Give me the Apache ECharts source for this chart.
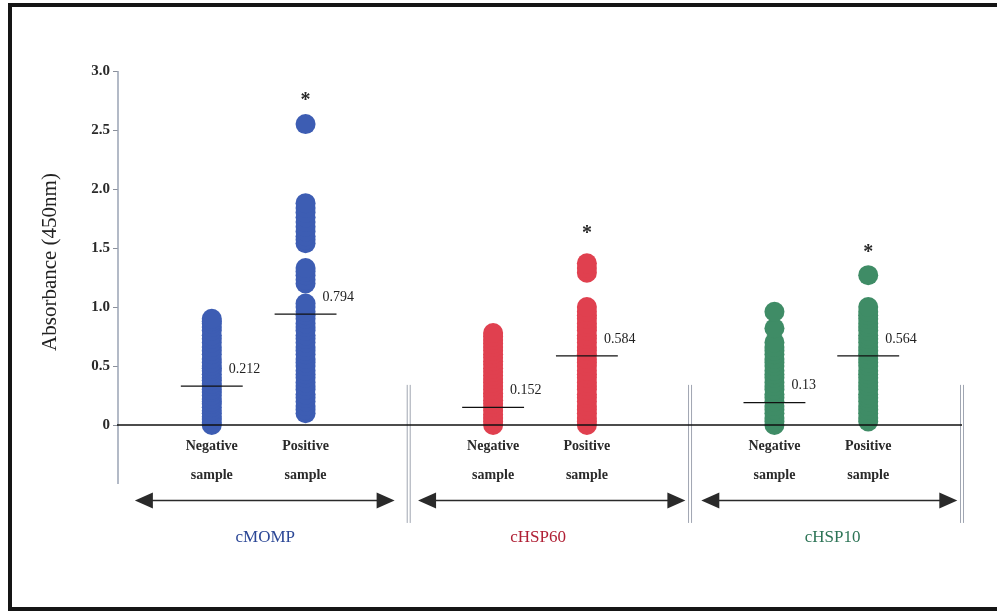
<!DOCTYPE html>
<html><head><meta charset="utf-8">
<script src="https://cdn.jsdelivr.net/npm/echarts@6/dist/echarts.min.js"></script>
<style>html,body{margin:0;padding:0;background:#fff}#c{width:997px;height:613px}</style>
</head><body><div id="c"></div>
<script>
// ---- data ----
const yTickValues = [0, 0.5, 1, 1.5, 2, 2.5, 3];
const yTickLabels = ['0', '0.5', '1.0', '1.5', '2.0', '2.5', '3.0'];
const groups = ['cMOMP', 'cHSP60', 'cHSP10'];
const sampleTypes = ['Negative\nsample', 'Positive\nsample'];
const columnX = [1, 2, 4, 5, 7, 8];
const groupCenterX = [1.57, 4.48, 7.62];
const groupArrowX = [[0.18, 2.95], [3.2, 6.05], [6.22, 8.95]];
const separatorX = [3.1, 6.1, 9.0];
const meanLine = [0.33, 0.94, 0.15, 0.585, 0.19, 0.585];
const meanLabels = ['0.212', '0.794', '0.152', '0.584', '0.13', '0.564'];
const asteriskY = [2.78, 1.65, 1.49];

const cMOMPNeg = [0.0,0.02,0.05,0.07,0.1,0.12,0.15,0.18,0.2,0.22,0.25,0.28,0.3,0.33,0.35,0.38,0.4,0.43,0.46,0.48,0.5,0.53,0.56,0.6,0.63,0.66,0.7,0.73,0.76,0.8,0.83,0.86,0.88,0.9];
const cMOMPPos = [0.1,0.13,0.16,0.2,0.23,0.26,0.3,0.33,0.36,0.4,0.43,0.46,0.5,0.53,0.56,0.6,0.63,0.66,0.7,0.73,0.76,0.8,0.83,0.86,0.9,0.93,0.96,1.0,1.03,1.2,1.23,1.27,1.3,1.33,1.54,1.57,1.6,1.64,1.68,1.72,1.76,1.8,1.84,1.88,2.55];
const cHSP60Neg = [0.0,0.03,0.06,0.09,0.12,0.15,0.18,0.21,0.24,0.27,0.3,0.33,0.36,0.39,0.42,0.45,0.48,0.51,0.54,0.57,0.6,0.63,0.66,0.69,0.72,0.75,0.78];
const cHSP60Pos = [0.0,0.03,0.06,0.1,0.13,0.16,0.2,0.23,0.26,0.3,0.33,0.36,0.4,0.43,0.46,0.5,0.53,0.56,0.6,0.63,0.66,0.7,0.73,0.76,0.8,0.83,0.86,0.9,0.93,0.96,1.0,1.29,1.33,1.37];
const cHSP10Neg = [0.0,0.03,0.06,0.1,0.13,0.16,0.2,0.23,0.26,0.3,0.33,0.36,0.4,0.43,0.46,0.5,0.53,0.56,0.6,0.63,0.66,0.7,0.82,0.96];
const cHSP10Pos = [0.03,0.06,0.1,0.13,0.16,0.2,0.23,0.26,0.3,0.33,0.36,0.4,0.43,0.46,0.5,0.53,0.56,0.6,0.63,0.66,0.7,0.73,0.76,0.8,0.83,0.86,0.9,0.93,0.96,1.0,1.27];

const groupColors = ['#3d5db3', '#e0404f', '#3f8c66'];
const groupTextColors = ['#2b4796', '#b02035', '#2d7456'];
const groupData = [[cMOMPNeg, cMOMPPos], [cHSP60Neg, cHSP60Pos], [cHSP10Neg, cHSP10Pos]];

const scatterSeries = [];
groupData.forEach((pair, g) => {
  pair.forEach((vals, k) => {
    const x = columnX[g * 2 + k];
    scatterSeries.push({
      type: 'scatter', symbol: 'circle', symbolSize: 20, clip: false, z: 3,
      itemStyle: { color: groupColors[g], opacity: 1 },
      data: vals.map(v => [x, v])
    });
  });
});

const chart = echarts.init(document.getElementById('c'), null, { renderer: 'canvas' });
chart.setOption({
  animation: false,
  backgroundColor: '#fff',
  grid: { left: 118, width: 844, top: 71, bottom: 70 },
  xAxis: { type: 'value', min: 0, max: 9, show: false },
  yAxis: {
    type: 'value', min: -1, max: 3, interval: 0.5,
    axisLine: { show: false },
    splitLine: { show: false },
    axisTick: { show: true, length: 5, customValues: yTickValues, lineStyle: { color: '#8a8f9a' } },
    axisLabel: {
      customValues: yTickValues, margin: 8,
      formatter: v => yTickLabels[yTickValues.indexOf(v)] ?? '',
      fontFamily: '"Liberation Serif", serif', fontWeight: 'bold', fontSize: 15, color: '#2a2a2a'
    }
  },
  graphic: [
    { type: 'rect', shape: { x: 10, y: 5, width: 1000, height: 604 }, style: { fill: 'none', stroke: '#151515', lineWidth: 4 }, z: 100 },
    { type: 'text', x: 50, y: 262, rotation: Math.PI / 2,
      style: { text: 'Absorbance (450nm)', font: '21px "Liberation Serif", serif', fill: '#222', textAlign: 'center', textVerticalAlign: 'middle' } }
  ],
  series: [
    { type: 'line', data: [[0, 3], [0, -0.5]], symbol: 'none', clip: false, z: 1,
      lineStyle: { color: '#9aa3b5', width: 1.5 } },
    { type: 'line', data: [[-0.05, 0], [9, 0]], symbol: 'none', clip: false, z: 4,
      lineStyle: { color: '#111', width: 1.5 } },
    ...scatterSeries,
    { type: 'custom', clip: false, z: 2,
      data: separatorX.map(x => [x, 0.34, -0.83]),
      encode: { x: 0, y: 1 },
      renderItem: (params, api) => {
        const p1 = api.coord([api.value(0), api.value(1)]);
        const p2 = api.coord([api.value(0), api.value(2)]);
        const st = { stroke: '#a0a6b2', lineWidth: 1 };
        return { type: 'group', children: [
          { type: 'line', shape: { x1: p1[0] - 1.5, y1: p1[1], x2: p2[0] - 1.5, y2: p2[1] }, style: st },
          { type: 'line', shape: { x1: p1[0] + 1.5, y1: p1[1], x2: p2[0] + 1.5, y2: p2[1] }, style: st }
        ] };
      } },
    { type: 'custom', clip: false, z: 5,
      data: groupArrowX.map(a => [a[0], -0.64, a[1]]),
      encode: { x: 0, y: 1 },
      renderItem: (params, api) => {
        const a = api.coord([api.value(0), api.value(1)]);
        const b = api.coord([api.value(2), api.value(1)]);
        const y = a[1], L = 18, H = 8;
        const fill = '#2a2a2a';
        return { type: 'group', children: [
          { type: 'line', shape: { x1: a[0] + L - 2, y1: y, x2: b[0] - L + 2, y2: y }, style: { stroke: fill, lineWidth: 1.5 } },
          { type: 'polygon', shape: { points: [[a[0], y], [a[0] + L, y - H], [a[0] + L, y + H]] }, style: { fill: fill } },
          { type: 'polygon', shape: { points: [[b[0], y], [b[0] - L, y - H], [b[0] - L, y + H]] }, style: { fill: fill } }
        ] };
      } },
    { type: 'custom', clip: false, z: 6,
      data: columnX.map((x, i) => [x, meanLine[i], i]),
      encode: { x: 0, y: 1 },
      renderItem: (params, api) => {
        const x = api.value(0), m = api.value(1), i = api.value(2);
        const a = api.coord([x - 0.33, m]);
        const b = api.coord([x + 0.33, m]);
        const c = api.coord([x, m]);
        return { type: 'group', children: [
          { type: 'line', shape: { x1: a[0], y1: a[1], x2: b[0], y2: b[1] }, style: { stroke: '#111', lineWidth: 1.3 } },
          { type: 'text', x: c[0] + 17, y: c[1] - 17, style: { text: meanLabels[i], font: '14px "Liberation Serif", serif', fill: '#222', textAlign: 'left', textVerticalAlign: 'middle' } }
        ] };
      } },
    { type: 'custom', clip: false, z: 6,
      data: asteriskY.map((y, g) => [columnX[g * 2 + 1], y]),
      encode: { x: 0, y: 1 },
      renderItem: (params, api) => {
        const c = api.coord([api.value(0), api.value(1)]);
        return { type: 'text', x: c[0], y: c[1] + 4, style: { text: '*', font: 'bold 20px "Liberation Serif", serif', fill: '#2a2a2a', textAlign: 'center', textVerticalAlign: 'middle' } };
      } },
    { type: 'custom', clip: false, z: 6,
      data: columnX.map((x, i) => [x, -0.305, i % 2]),
      encode: { x: 0, y: 1 },
      renderItem: (params, api) => {
        const c = api.coord([api.value(0), api.value(1)]);
        return { type: 'text', x: c[0], y: c[1], style: { text: sampleTypes[api.value(2)], font: 'bold 14px "Liberation Serif", serif', lineHeight: 29, fill: '#2a2a2a', textAlign: 'center', textVerticalAlign: 'middle' } };
      } },
    { type: 'custom', clip: false, z: 6,
      data: groupCenterX.map((x, g) => [x, -0.95, g]),
      encode: { x: 0, y: 1 },
      renderItem: (params, api) => {
        const c = api.coord([api.value(0), api.value(1)]);
        const g = api.value(2);
        return { type: 'text', x: c[0], y: c[1], style: { text: groups[g], font: '17px "Liberation Serif", serif', fill: groupTextColors[g], textAlign: 'center', textVerticalAlign: 'middle' } };
      } }
  ]
});
</script>
</body></html>
